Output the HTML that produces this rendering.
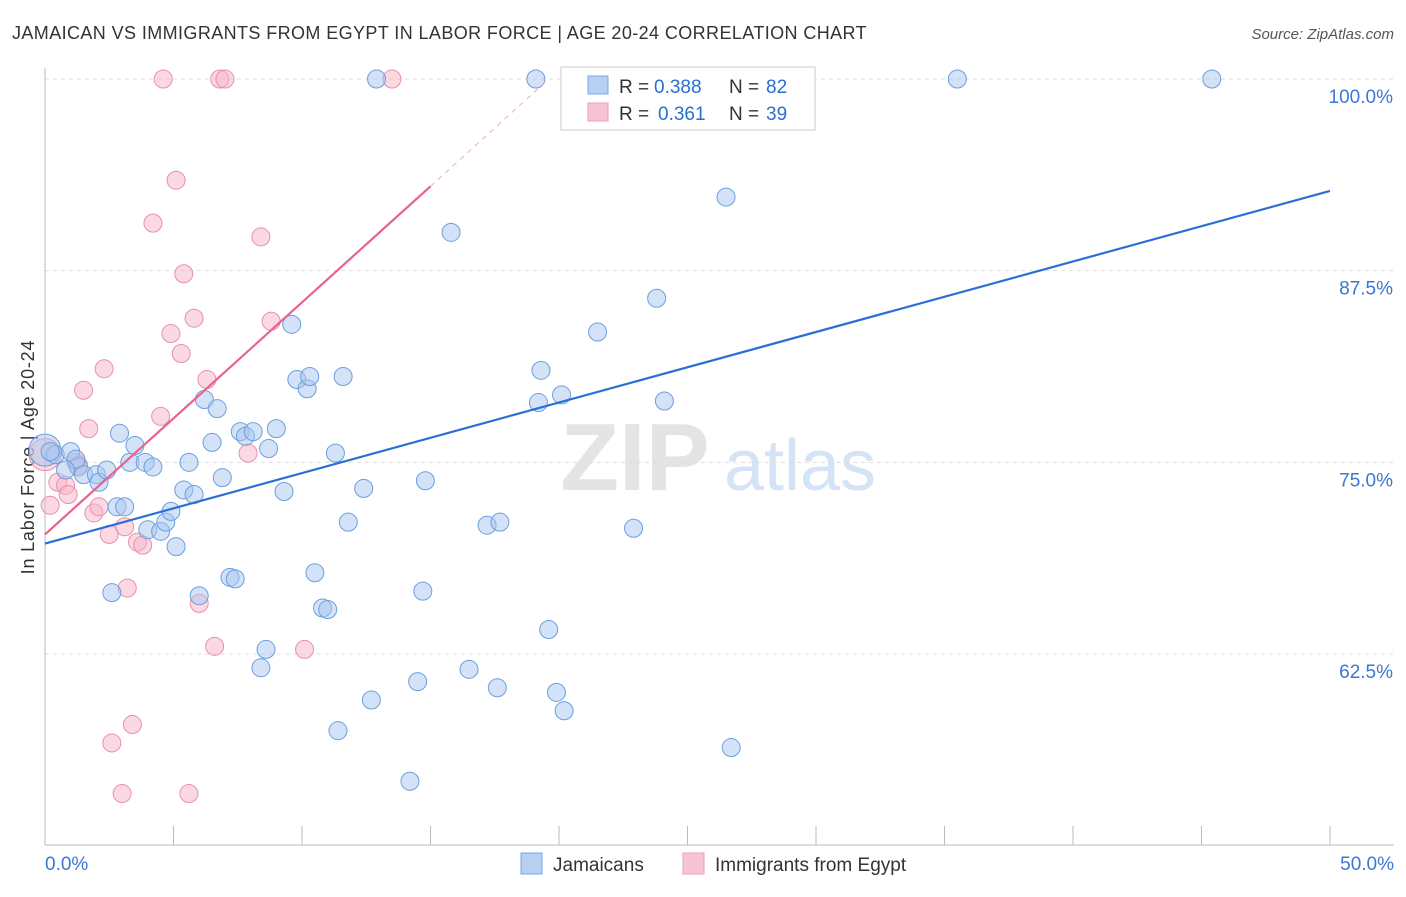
<!DOCTYPE html>
<html><head><meta charset="utf-8"><style>
body{margin:0;background:#fff;font-family:"Liberation Sans",sans-serif;}
svg text{font-family:"Liberation Sans",sans-serif;}
</style></head><body>
<svg id="c" width="1406" height="892" xmlns="http://www.w3.org/2000/svg">
<text x="12" y="39" font-size="18" letter-spacing="0.4" fill="#333">JAMAICAN VS IMMIGRANTS FROM EGYPT IN LABOR FORCE | AGE 20-24 CORRELATION CHART</text>
<text x="1394" y="39" font-size="15" fill="#555" text-anchor="end" font-style="italic">Source: ZipAtlas.com</text>
<text x="34" y="457" font-size="18" letter-spacing="0.8" fill="#333" text-anchor="middle" transform="rotate(-90 34 457)">In Labor Force | Age 20-24</text>
<g><text x="635" y="490" font-size="96" fill="#e4e4e4" text-anchor="middle" font-family="Liberation Serif" font-weight="bold">ZIP</text><text x="800" y="490" font-size="72" fill="#d4e3f5" text-anchor="middle">atlas</text></g>
<g id="grid"></g><g id="marks"></g>
<g>
<rect x="561" y="67" width="254" height="63" fill="#fff" stroke="#ccc"/>
<rect x="588" y="76" width="20" height="18" fill="#b5d0f2" stroke="#7aa8e0"/>
<rect x="588" y="103" width="20" height="18" fill="#f8c4d4" stroke="#eba0ba"/>
<text x="619" y="93" font-size="19" fill="#333">R =</text><text x="654" y="93" font-size="19" fill="#2a6fd0">0.388</text>
<text x="729" y="93" font-size="19" fill="#333">N =</text><text x="766" y="93" font-size="19" fill="#2a6fd0">82</text>
<text x="619" y="120" font-size="19" fill="#333">R =</text><text x="658" y="120" font-size="19" fill="#2a6fd0">0.361</text>
<text x="729" y="120" font-size="19" fill="#333">N =</text><text x="766" y="120" font-size="19" fill="#2a6fd0">39</text>
</g>
<g>
<rect x="521" y="853" width="21" height="21" fill="#b5d0f2" stroke="#7aa8e0"/>
<text x="553" y="871" font-size="19" fill="#333">Jamaicans</text>
<rect x="683" y="853" width="21" height="21" fill="#f8c4d4" stroke="#eba0ba"/>
<text x="715" y="871" font-size="19" fill="#333">Immigrants from Egypt</text>
</g>
</svg>
<script>
const yTicks=[100,87.5,75,62.5];
const yTickLabels=["100.0%","87.5%","75.0%","62.5%"];
const xTicks=[0,5,10,15,20,25,30,35,40,45,50];
const xEndLabels=["0.0%","50.0%"];
const jamX=[0.0,0.4,1.0,1.3,1.5,2.0,2.1,2.4,2.9,3.5,3.3,3.9,4.2,2.8,3.1,2.6,4.0,4.5,4.7,4.9,5.1,5.4,5.6,5.8,6.2,6.5,6.7,6.9,6.0,7.2,7.4,7.6,7.8,8.1,8.6,8.4,8.7,9.0,9.3,9.6,9.8,10.2,10.3,10.5,10.8,11.0,11.3,11.6,11.8,12.4,11.4,12.7,12.9,14.2,14.5,14.7,14.8,15.8,16.5,17.2,17.7,17.6,19.1,19.2,19.3,19.6,19.9,20.1,20.2,21.5,22.9,23.8,24.1,26.5,26.7,27.2,28.6,35.5,45.4,1.2,0.8,0.2];
const jamY=[75.8,75.5,75.7,74.7,74.2,74.2,73.7,74.5,76.9,76.1,75.0,75.0,74.7,72.1,72.1,66.5,70.6,70.5,71.1,71.8,69.5,73.2,75.0,72.9,79.1,76.3,78.5,74.0,66.3,67.5,67.4,77.0,76.7,77.0,62.8,61.6,75.9,77.2,73.1,84.0,80.4,79.8,80.6,67.8,65.5,65.4,75.6,80.6,71.1,73.3,57.5,59.5,100,54.2,60.7,66.6,73.8,90.0,61.5,70.9,71.1,60.3,100,78.9,81.0,64.1,60.0,79.4,58.8,83.5,70.7,85.7,79.0,92.3,56.4,100,100,100,100,75.2,74.5,75.7];
const egyX=[0.0,0.2,0.5,0.8,0.9,1.2,1.3,1.7,1.5,1.9,2.1,2.3,2.5,2.6,3.0,3.2,3.1,3.4,3.6,3.8,4.5,4.2,4.6,4.9,5.1,5.3,5.4,5.6,5.8,6.0,6.3,6.6,6.8,7.0,7.9,8.4,8.8,10.1,13.5];
const egyY=[75.5,72.2,73.7,73.5,72.9,75.0,74.8,77.2,79.7,71.7,72.1,81.1,70.3,56.7,53.4,66.8,70.8,57.9,69.8,69.6,78.0,90.6,100,83.4,93.4,82.1,87.3,53.4,84.4,65.8,80.4,63.0,100,100,75.6,89.7,84.2,62.8,100];
const jamTrend=[[0,69.7],[50,92.7]];
const egyTrend=[[0,70.3],[15,93.0]];
const egyTrendExt=[[15,93.0],[19.6,100]];
const NS="http://www.w3.org/2000/svg";
const X=v=>45+v*(1285/50);
const Y=v=>79+(100-v)*(191.67/12.5);
function mk(t,a,p){const e=document.createElementNS(NS,t);for(const k in a)e.setAttribute(k,a[k]);p.appendChild(e);return e;}
const grid=document.getElementById('grid'),marks=document.getElementById('marks');
yTicks.forEach((t,i)=>{
 const l=mk('line',{x1:45,x2:1394,y1:Y(t),y2:Y(t),stroke:'#ddd','stroke-dasharray':'4,4'},grid);
 
 
 const tx=mk('text',{x:1393,y:Y(t)+24,'font-size':19,fill:'#3a78d4','text-anchor':'end'},grid);
 tx.textContent=yTickLabels[i];
 
 
});
const ax=mk('line',{x1:45,x2:45,y1:68,y2:845,stroke:'#bbb'},grid);


const bx=mk('line',{x1:45,x2:1394,y1:845,y2:845,stroke:'#bbb'},grid);


xTicks.forEach(t=>{
 const l=mk('line',{x1:X(t),x2:X(t),y1:826,y2:845,stroke:'#bbb'},grid);
 
 
});
[[0,'start',45],[50,'end',1394]].forEach((d,i)=>{
 const tx=mk('text',{x:d[2],y:870,'font-size':19,fill:'#3a78d4','text-anchor':d[1]},grid);
 tx.textContent=xEndLabels[i];
 
 
});
function pts(xs,ys,fill,stroke,name){
 xs.forEach((x,i)=>{
  const r=(x===0)?16:9;
  const c=mk('circle',{cx:X(x),cy:Y(ys[i]),r:r,fill:fill,'fill-opacity':0.5,stroke:stroke,'stroke-width':1},marks);
  
  
 });
}
pts(egyX,egyY,'#f6b4c8','#e98fae','egypt-point');
pts(jamX,jamY,'#a8c6ef','#6b9fe0','jamaican-point');
const t1=mk('line',{x1:X(jamTrend[0][0]),y1:Y(jamTrend[0][1]),x2:X(jamTrend[1][0]),y2:Y(jamTrend[1][1]),stroke:'#2a6fd6','stroke-width':2.2},marks);


const t2=mk('line',{x1:X(egyTrend[0][0]),y1:Y(egyTrend[0][1]),x2:X(egyTrend[1][0]),y2:Y(egyTrend[1][1]),stroke:'#e8628e','stroke-width':2.2},marks);


const t3=mk('line',{x1:X(egyTrendExt[0][0]),y1:Y(egyTrendExt[0][1]),x2:X(egyTrendExt[1][0]),y2:Y(egyTrendExt[1][1]),stroke:'#f0a8c0','stroke-width':1,'stroke-dasharray':'5,5'},marks);


</script>
</body></html>
